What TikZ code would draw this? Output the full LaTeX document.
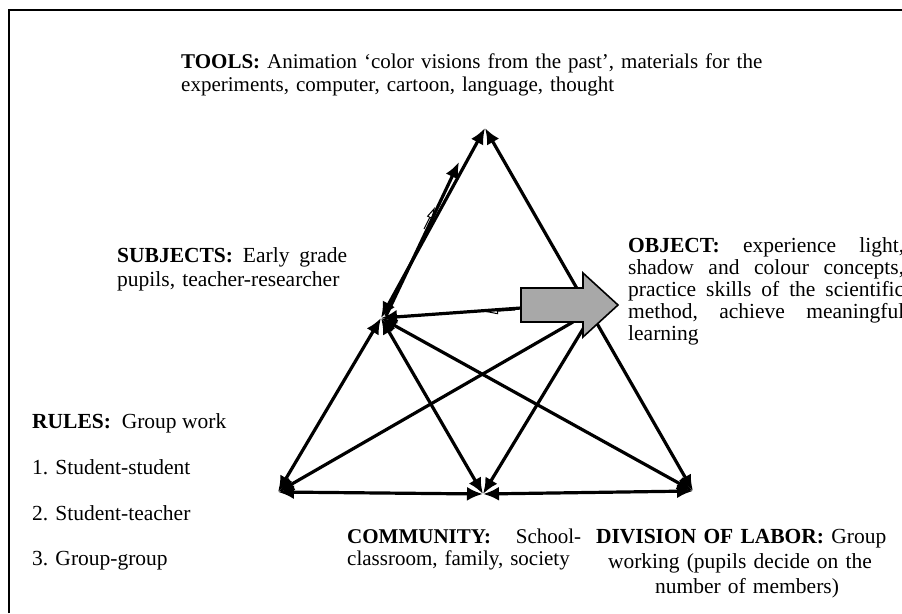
\documentclass[tikz,border=0pt]{standalone}
\usepackage{fontspec}
\setmainfont{Liberation Serif}
\usetikzlibrary{arrows.meta}
\begin{document}
\begin{tikzpicture}[x=1pt,y=-1pt,
  txt/.style={inner sep=0pt, anchor=base west, align=left, font=\fontsize{21.5}{23}\selectfont},
  ctxt/.style={inner sep=0pt, anchor=base, align=center, font=\fontsize{21.5}{25}\selectfont},
  link/.style={line width=3.2pt, -{Latex[length=16pt,width=14pt]}},
  dlink/.style={line width=3.2pt, {Latex[length=16pt,width=14pt]}-{Latex[length=16pt,width=14pt]}},
  thinlink/.style={line width=1pt, -{Triangle[open,length=12pt,width=6pt]}},
  blockarrow/.style={line width=1.6pt, fill=gray!68, draw=black, line join=miter},
]
\useasboundingbox (0,0) rectangle (902,613);
\draw[line width=2pt] (9,613) -- (9,10) -- (902,10);

% texts
\node[txt, text width=640pt, font=\fontsize{21}{23}\selectfont] (tools) at (181,68) {\textbf{TOOLS:} Animation `color visions from the past', materials for the\\experiments, computer, cartoon, language, thought};
\node[txt, text width=230pt, font=\fontsize{21.5}{24}\selectfont] (subjects) at (117,262) {\textbf{SUBJECTS:}\hfill Early\hfill grade\\pupils, teacher-researcher};
\node[txt, text width=276pt, font=\fontsize{21.5}{22}\selectfont] (object) at (628,252) {\textbf{OBJECT:}\hfill experience\hfill light,\\shadow\hfill and\hfill colour\hfill concepts,\\practice\hfill skills\hfill of\hfill the\hfill scientific\\method,\hfill achieve\hfill meaningful\\learning};
\node[txt] (rules) at (32,428) {\textbf{RULES:}\ \ Group work};
\node[txt] (r1) at (32,474) {1. Student-student};
\node[txt] (r2) at (32,520) {2. Student-teacher};
\node[txt] (r3) at (32,565) {3. Group-group};
\node[txt, text width=234pt, font=\fontsize{21}{22}\selectfont] (community) at (347,543) {\textbf{COMMUNITY:}\hfill School-\\classroom, family, society};
\node[ctxt, text width=320pt] (division) at (747,543) {\makebox[302pt][s]{\textbf{DIVISION OF LABOR:}\ Group}\\\makebox[278pt][s]{working (pupils decide on the}\\number of members)};

% vertices
\coordinate (T) at (485,128);
\coordinate (S) at (381,318);
\coordinate (R) at (278,492);
\coordinate (C) at (483,494);
\coordinate (D) at (693,491);
\coordinate (T2) at (459,162);
\coordinate (S2) at (386,316);
\coordinate (Ob) at (521,308);
\coordinate (O1) at (573,322);
\coordinate (O2) at (586,324);
\coordinate (m1a) at (424,229);
\coordinate (m1b) at (435,207);
\coordinate (m2a) at (515,310);
\coordinate (m2b) at (486,312);

% connectors
\draw[dlink] (S) -- (T);
\draw[link] (S2) -- (T2);
\draw[thinlink] (m1a) -- (m1b);
\draw[dlink] (D) -- (T);
\draw[link] (Ob) -- (S);
\draw[thinlink] (m2a) -- (m2b);
\draw[dlink] (S) -- (R);
\draw[dlink] (S) -- (C);
\draw[dlink] (S) -- (D);
\draw[link] (O1) -- (R);
\draw[link] (O2) -- (C);
\draw[dlink] (R) -- (C);
\draw[dlink] (C) -- (D);

% object block arrow
\draw[blockarrow] (521,288) -- (583,288) -- (583,273) -- (618,305) -- (583,337) -- (583,322) -- (521,322) -- cycle;
\end{tikzpicture}
\end{document}
